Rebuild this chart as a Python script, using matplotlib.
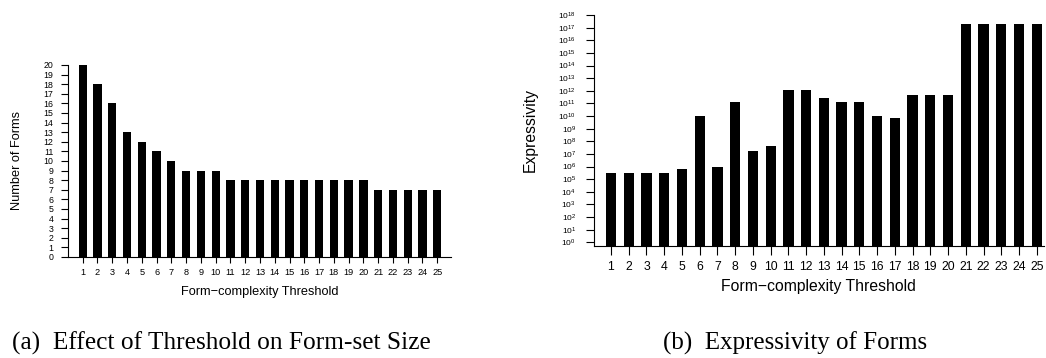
import numpy as np
import matplotlib
matplotlib.use('Agg')
import matplotlib.pyplot as plt

plt.rcParams['font.family'] = 'Liberation Sans'
plt.rcParams['mathtext.fontset'] = 'custom'
plt.rcParams['mathtext.rm'] = 'Liberation Sans'
plt.rcParams['mathtext.it'] = 'Liberation Sans'

# data
thresholds = list(range(1, 26))
num_forms = [20, 18, 16, 13, 12, 11, 10, 9, 9, 9,
             8, 8, 8, 8, 8, 8, 8, 8, 8, 8,
             7, 7, 7, 7, 7]
expressivity = [2.9e5, 2.9e5, 3.2e5, 2.9e5, 6.3e5, 9.5e9, 9.8e5, 1.35e11, 1.8e7, 4.2e7,
                1.15e12, 1.15e12, 2.6e11, 1.35e11, 1.35e11, 9.5e9, 6.9e9, 4.9e11, 4.9e11, 4.9e11,
                2.0e17, 2.0e17, 2.0e17, 2.0e17, 2.0e17]
xlabel = 'Form\u2212complexity Threshold'

W, H = 1046, 358
fig = plt.figure(figsize=(W / 100, H / 100), dpi=100)

def px_axes(l, t, r, b):
    return fig.add_axes([l / W, 1 - b / H, (r - l) / W, (b - t) / H])

def style(ax):
    for s in ['top', 'right']:
        ax.spines[s].set_visible(False)
    for s in ['left', 'bottom']:
        ax.spines[s].set_linewidth(0.8)

##########################
# (a) number of forms
ax1 = px_axes(68, 65, 451, 257)
ax1.bar(thresholds, num_forms, width=0.56, color='black')
ax1.set_xlim(0.005, 25.93)
ax1.set_ylim(0, 20)
ax1.set_xticks(thresholds)
ax1.set_yticks(range(0, 21))
ax1.tick_params(axis='y', length=5, width=0.8, pad=5.5, labelsize=6.3)
ax1.tick_params(axis='x', length=4.3, width=0.8, pad=3.5, labelsize=6.6)
style(ax1)
ax1.set_xlabel(xlabel, fontsize=9.2)
ax1.xaxis.set_label_coords(0.5, -0.181)
ax1.xaxis.label.set_va('center')
ax1.set_ylabel('Number of Forms', fontsize=9.2)
ax1.yaxis.set_label_coords(-0.133, 0.5)
ax1.yaxis.label.set_va('center')

##########################
# (b) expressivity
ax2 = px_axes(593.7, 15, 1044, 245.7)
ybot = 10 ** -0.27
ax2.set_yscale('log')
ax2.bar(thresholds, np.array(expressivity) - ybot, bottom=ybot, width=0.58, color='black')
ax2.set_xlim(0.025, 25.41)
ax2.set_ylim(ybot, 1e18)
ax2.set_xticks(thresholds)
ax2.set_yticks([10.0 ** k for k in range(0, 19)])
ax2.set_yticklabels(['$10^{%d}$' % k for k in range(0, 19)])
ax2.minorticks_off()
ax2.tick_params(axis='y', length=5.8, width=0.8, pad=7, labelsize=6)
ax2.tick_params(axis='x', length=6.5, width=0.8, pad=4.5, labelsize=8.8)
style(ax2)
ax2.set_xlabel(xlabel, fontsize=11.3)
ax2.xaxis.set_label_coords(0.5, -0.175)
ax2.xaxis.label.set_va('center')
ax2.set_ylabel('Expressivity', fontsize=11.3)
ax2.yaxis.set_label_coords(-0.140, 0.5)
ax2.yaxis.label.set_va('center')

# captions
fig.text(12 / W, 1 - 350 / H, '(a)  Effect of Threshold on Form-set Size',
         family='Liberation Serif', fontsize=18.3, ha='left', va='baseline')
fig.text(663 / W, 1 - 350 / H, '(b)  Expressivity of Forms',
         family='Liberation Serif', fontsize=18, ha='left', va='baseline')

plt.savefig('out.png', dpi=100)
